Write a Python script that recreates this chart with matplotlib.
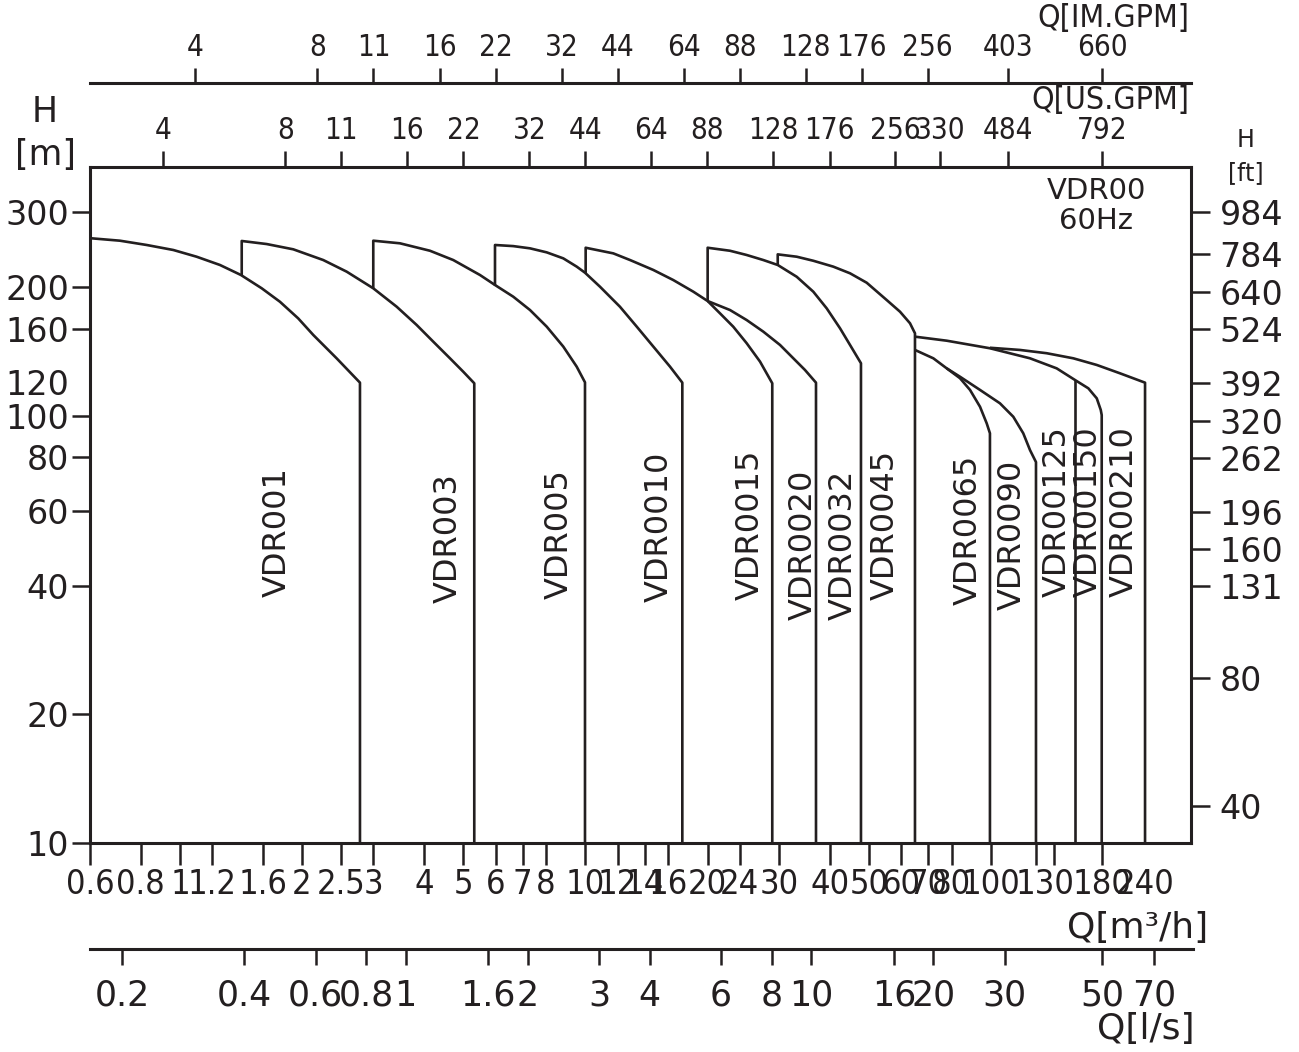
import os
import numpy as np
import matplotlib
matplotlib.use("Agg")
import matplotlib.pyplot as plt
from matplotlib import font_manager as fm
from matplotlib.font_manager import FontProperties

# ---------------- data ----------------
# Flow Q in m3/h, head H in m
vdr001_q = [0.603, 0.711, 0.828, 0.963, 1.099, 1.255, 1.414, 1.591, 1.764,
            1.957, 2.132, 2.434, 2.779, 2.779]
vdr001_h = [260.8, 257.4, 251.5, 244.8, 236.1, 225.8, 213.9, 199.1, 185.2,
            169.3, 154.8, 136.5, 119.7, 10]
vdr003_q = [1.420, 1.420, 1.636, 1.903, 2.256, 2.577, 2.997, 3.423, 3.834,
            4.214, 4.633, 4.995, 5.318, 5.318]
vdr003_h = [213.9, 257.0, 252.8, 245.7, 231.9, 217.8, 199.1, 180.3, 163.4,
            149.3, 136.5, 127.0, 119.3, 10]
vdr005_q = [2.997, 2.997, 3.487, 4.136, 4.72, 5.494, 5.982, 6.636, 7.298,
            8.025, 8.816, 9.513, 9.972, 9.972]
vdr005_h = [199.1, 257.4, 253.8, 243.8, 231.9, 213.9, 202.7, 190.3, 177.1,
            161.9, 145.4, 130.5, 119.9, 10]
vdr010_q = [5.982, 5.982, 6.636, 7.298, 8.025, 8.816, 9.513, 9.972, 10.86,
            12.16, 13.38, 14.70, 16.16, 17.33, 17.33]
vdr010_h = [202.0, 251.5, 250.0, 247.0, 241.7, 234.0, 223.8, 216.6, 200.8,
            180.3, 161.9, 145.4, 130.5, 119.7, 10]
vdr015_q = [10.01, 10.01, 11.71, 12.88, 14.70, 16.46, 18.45, 20.01, 21.46,
            23.14, 24.97, 26.94, 28.88, 28.88]
vdr015_h = [216.1, 247.8, 240.4, 231.9, 219.8, 208.2, 195.5, 185.9, 174.0,
            161.9, 148.1, 134.1, 119.3, 10]
vdr020_q = [20.01, 22.72, 24.97, 27.45, 30.18, 32.55, 34.77, 37.02, 37.02]
vdr020_h = [185.9, 177.1, 167.8, 157.6, 146.7, 136.5, 128.2, 119.7, 10]
vdr032_q = [20.01, 20.01, 22.72, 24.97, 27.45, 29.79, 33.18, 36.46, 39.34,
            42.43, 44.91, 47.79, 47.79]
vdr032_h = [185.9, 247.8, 243.8, 238.3, 231.9, 225.8, 211.9, 195.5, 178.7,
            160.5, 146.7, 132.9, 10]
vdr045_q = [29.79, 29.79, 33.18, 36.46, 40.83, 44.91, 49.37, 55.31, 59.65,
            63.13, 64.94, 64.94]
vdr045_h = [225.8, 239.1, 236.1, 231.0, 223.8, 215.9, 205.2, 186.9, 175.5,
            164.9, 156.2, 10]
vdr065_q = [64.94, 72.08, 77.77, 83.86, 88.77, 93.96, 97.6, 99.4, 99.4]
vdr065_h = [142.8, 136.5, 129.3, 122.6, 115.1, 105.1, 96.1, 91.1, 10]
vdr090_q = [77.77, 83.86, 93.96, 105.2, 113.5, 120.1, 124.8, 129.1, 129.1]
vdr090_h = [129.3, 123.6, 115.1, 107.1, 99.6, 91.1, 83.2, 78.0, 10]
vdr0125_q = [161.2, 161.2]
vdr0125_h = [121.4, 10]
vdr0150_q = [64.94, 77.77, 99.4, 124.8, 145.2, 161.2, 173.8, 182.3, 186.5,
             187.5, 187.5]
vdr0150_h = [153.4, 150.1, 144.1, 136.5, 129.3, 121.4, 116.1, 110.0, 103.3,
             100.5, 10]
vdr0210_q = [99.4, 117.9, 137.2, 159.6, 182.3, 208.0, 239.8, 239.8]
vdr0210_h = [144.5, 142.8, 140.3, 136.5, 131.7, 125.9, 119.7, 10]

pump_names = ["VDR001", "VDR003", "VDR005", "VDR0010", "VDR0015", "VDR0020",
              "VDR0032", "VDR0045", "VDR0065", "VDR0090", "VDR00125",
              "VDR00150", "VDR00210"]

# axis tick values
h_m_ticks = [10, 20, 40, 60, 80, 100, 160, 200, 300]
h_ft_ticks = [40, 80, 131, 160, 196, 262, 320, 392, 524, 640, 784, 984]
q_m3h_ticks = [0.6, 0.8, 1, 1.2, 1.6, 2, 2.5, 3, 4, 5, 6, 7, 8, 10, 12, 14, 16,
               20, 24, 30, 40, 50, 60, 70, 80, 100, 129, 143, 188]
q_m3h_labels = ["0.6", "0.8", "1", "1.2", "1.6", "2", "2.5", "3", "4", "5", "6",
                "7", "8", "10", "12", "14", "16", "20", "24", "30", "40", "50",
                "60", "70", "80", "100", "", "", "180"]
q_m3h_extra_pos = [136, 240]
q_m3h_extra_labels = ["130", "240"]
ls_labels = ["0.2", "0.4", "0.6", "0.8", "1", "1.6", "2", "3", "4", "6", "8",
             "10", "16", "20", "30", "50", "70"]
ls_pos_m3h = [0.72, 1.44, 2.16, 2.88, 3.6, 5.76, 7.2, 10.8, 14.4, 21.6, 28.8,
              36, 57.6, 72, 108, 188, 252]
us_labels = ["4", "8", "11", "16", "22", "32", "44", "64", "88", "128", "176",
             "256", "330", "484", "792"]
us_pos_m3h = [0.908, 1.817, 2.498, 3.63, 5.0, 7.27, 9.99, 14.5, 19.98, 29.07,
              39.97, 58.1, 74.9, 109.9, 188]
im_labels = ["4", "8", "11", "16", "22", "32", "44", "64", "88", "128", "176",
             "256", "403", "660"]
im_pos_m3h = [1.09, 2.18, 3.0, 4.37, 6.0, 8.73, 12.0, 17.46, 24.0, 34.9, 48.0,
              69.8, 109.9, 188]

# ---------------- fonts ----------------
INK = "#231f20"
WIDE = ["DejaVu Sans"]
plt.rcParams["font.family"] = WIDE
plt.rcParams["text.color"] = INK


def pick_narrow():
    files = [f.fname for f in fm.fontManager.ttflist]
    prefs = ["liberationsansnarrow-regular", "dejavusanscondensed.",
             "notosans-condensed.", "robotocondensed-regular",
             "roboto_condensed-regular", "opensans_condensed-regular",
             "opensans-condensed.", "notosans-semicondensed."]
    for p in prefs:
        for fn in files:
            if p in os.path.basename(fn).lower():
                return fn, p
    bad = ["bold", "italic", "oblique", "light", "thin", "black", "medium"]
    for fn in files:
        b = os.path.basename(fn).lower()
        if ("condensed" in b or "narrow" in b) and not any(w in b for w in bad):
            return fn, b
    return None, None


nfile, nkind = pick_narrow()
if nfile is not None:
    NARROW_FP = FontProperties(fname=nfile)
    scale = 1.0 if "narrow" in nkind else 0.85
else:
    NARROW_FP = FontProperties(family=["Liberation Sans", "DejaVu Sans"])
    scale = 0.8


def narrow(size):
    fp = NARROW_FP.copy()
    fp.set_size(size * scale)
    return fp


W, Hpx = 1299, 1052
fig = plt.figure(figsize=(W / 100, Hpx / 100), dpi=100)


def fx(px):
    return px / W


def fy(py):
    return 1 - py / Hpx


L, R, T, B = 90, 1191, 167, 843
XLIM = (0.6, 311.3)
YLIM = (10, 383)

ax = fig.add_axes([fx(L), fy(B), fx(R - L), fy(T) - fy(B)])
ax.set_xscale("log")
ax.set_yscale("log")
ax.set_xlim(*XLIM)
ax.set_ylim(*YLIM)
for s in ax.spines.values():
    s.set_linewidth(2.2)
    s.set_color(INK)

series = [(vdr001_q, vdr001_h), (vdr003_q, vdr003_h), (vdr005_q, vdr005_h),
          (vdr010_q, vdr010_h), (vdr015_q, vdr015_h), (vdr020_q, vdr020_h),
          (vdr032_q, vdr032_h), (vdr045_q, vdr045_h), (vdr065_q, vdr065_h),
          (vdr090_q, vdr090_h), (vdr0125_q, vdr0125_h), (vdr0150_q, vdr0150_h),
          (vdr0210_q, vdr0210_h)]
for q, h in series:
    ax.plot(q, h, color=INK, lw=1.9, solid_joinstyle="round",
            solid_capstyle="butt")

# pump name labels (vertical)
label_pos = [(1.739, 53.6), (4.58, 51.8), (8.60, 52.9), (15.18, 55.0),
             (25.45, 55.6), (34.4, 49.9), (43.2, 49.9), (54.8, 55.6),
             (87.8, 54.1), (112.7, 52.7), (145.5, 59.6), (173.5, 59.6),
             (212.8, 59.6)]
for name, (xq, yh) in zip(pump_names, label_pos):
    ax.text(xq, yh, name, rotation=90, ha="center", va="center",
            fontsize=23, color=INK)

fig.text(fx(1096), fy(191), "VDR00", ha="center", va="center", fontsize=21)
fig.text(fx(1096), fy(221), "60Hz", ha="center", va="center", fontsize=21)

# left axis (m)
ax.set_yticks(h_m_ticks, [str(v) for v in h_m_ticks])
ax.set_yticks([120], ["120"], minor=True)
ax.tick_params(axis="y", which="major", direction="out", length=13, width=1.8,
               pad=2, labelsize=24, colors=INK)
ax.tick_params(axis="y", which="minor", length=0, pad=15, labelsize=24,
               colors=INK)

# bottom axis (m3/h)
ax.set_xticks(q_m3h_ticks, q_m3h_labels)
ax.set_xticks(q_m3h_extra_pos, q_m3h_extra_labels, minor=True)
ax.tick_params(axis="x", which="major", direction="out", length=16, width=1.8,
               pad=2, colors=INK)
ax.tick_params(axis="x", which="minor", length=0, pad=18, colors=INK)
for lab in ax.get_xticklabels(which="both"):
    lab.set_fontproperties(narrow(29))

# right axis (ft)
axr = ax.twinx()
axr.set_yscale("log")
axr.set_ylim(YLIM[0] * 3.28084, YLIM[1] * 3.28084)
axr.set_yticks(h_ft_ticks, [str(v) for v in h_ft_ticks])
axr.yaxis.set_minor_locator(matplotlib.ticker.NullLocator())
axr.tick_params(axis="y", direction="out", length=13.5, width=1.8, pad=7,
                labelsize=24, colors=INK)
for s in axr.spines.values():
    s.set_visible(False)

# top axis US.GPM (on the frame)
axu = ax.twiny()
axu.set_xscale("log")
axu.set_xlim(*XLIM)
axu.set_xticks(us_pos_m3h, us_labels)
axu.xaxis.set_minor_locator(matplotlib.ticker.NullLocator())
axu.tick_params(axis="x", direction="out", length=11.5, width=1.8, pad=4,
                colors=INK)
for lab in axu.get_xticklabels():
    lab.set_fontproperties(narrow(25))
for s in axu.spines.values():
    s.set_visible(False)

# IM.GPM axis
axi = fig.add_axes([fx(L), fy(83), fx(R - L), 1e-5])
axi.set_xscale("log")
axi.set_xlim(*XLIM)
axi.set_yticks([])
for k, s in axi.spines.items():
    s.set_visible(k == "top")
    s.set_linewidth(2.2)
    s.set_color(INK)
axi.xaxis.set_ticks_position("top")
axi.set_xticks(im_pos_m3h, im_labels)
axi.xaxis.set_minor_locator(matplotlib.ticker.NullLocator())
axi.tick_params(axis="x", direction="out", length=11, width=1.8, pad=4,
                colors=INK)
for lab in axi.get_xticklabels():
    lab.set_fontproperties(narrow(25))
axi.patch.set_visible(False)

# l/s axis
axl = fig.add_axes([fx(L), fy(949), fx(1193 - L), 1e-5])
axl.set_xscale("log")
axl.set_xlim(XLIM[0], 10 ** ((1193 - 180) / 405.5))
axl.set_yticks([])
for k, s in axl.spines.items():
    s.set_visible(k == "bottom")
    s.set_linewidth(2.2)
    s.set_color(INK)
axl.set_xticks(ls_pos_m3h, ls_labels)
axl.xaxis.set_minor_locator(matplotlib.ticker.NullLocator())
axl.tick_params(axis="x", direction="out", length=11.5, width=1.8, pad=10,
                labelsize=25, colors=INK)
axl.patch.set_visible(False)

# axis titles
fig.text(fx(45), fy(112), "H", ha="center", va="center", fontsize=25)
fig.text(fx(45), fy(155), "[m]", ha="center", va="center", fontsize=25)
fig.text(fx(1246), fy(140), "H", ha="center", va="center", fontsize=17)
fig.text(fx(1246), fy(173), "[ft]", ha="center", va="center", fontsize=17)
fig.text(fx(1189), fy(19), "Q[IM.GPM]", ha="right", va="center",
         fontproperties=narrow(27))
fig.text(fx(1189), fy(101), "Q[US.GPM]", ha="right", va="center",
         fontproperties=narrow(27))
fig.text(fx(1208), fy(928), "Q[m³/h]", ha="right", va="center", fontsize=26)
fig.text(fx(1195), fy(1029), "Q[l/s]", ha="right", va="center", fontsize=26)

fig.savefig("out.png", dpi=100, facecolor="white")
